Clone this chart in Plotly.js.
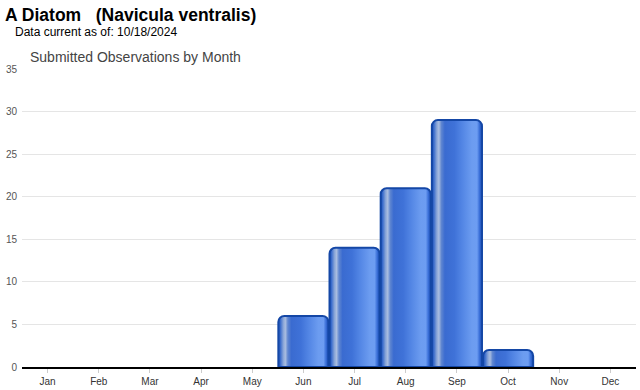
<!DOCTYPE html>
<html><head><meta charset="utf-8">
<script src="https://cdn.plot.ly/plotly-3.0.1.min.js"></script>
<style>html,body{margin:0;padding:0;background:#fff}#c{width:640px;height:390px}</style>
</head><body><div id="c"></div>
<script>
const months = ["Jan","Feb","Mar","Apr","May","Jun","Jul","Aug","Sep","Oct","Nov","Dec"];
const observations = [0,0,0,0,0,6,14,21,29,2,0,0];
const yTicks = [0,5,10,15,20,25,30,35];

const traces = [{
  type: 'bar', x: months, y: observations, width: 0.98,
  marker: {
    color: '#3f72d8', cornerradius: 6,
    line: {color: '#1447a6', width: observations.map(v => v > 0 ? 2 : 0)}
  },
  hoverinfo: 'skip', showlegend: false
}];

const layout = {
  width: 640, height: 390,
  margin: {l: 22, r: 4, t: 69, b: 23},
  paper_bgcolor: '#fff', plot_bgcolor: '#fff',
  bargap: 0.02,
  font: {family: 'Liberation Sans, Arial, sans-serif', color: '#444', size: 10},
  xaxis: {
    type: 'category', categoryarray: months, showgrid: false,
    showline: true, linecolor: '#000', linewidth: 1.5,
    ticks: 'outside', ticklen: 4, tickcolor: '#ccc',
    tickfont: {size: 10, color: '#333'}, fixedrange: true
  },
  yaxis: {
    range: [0, 35], tickvals: yTicks, showgrid: true, gridcolor: '#e5e5e5',
    zeroline: false, showline: false, ticks: '', ticklabelstandoff: 4,
    tickfont: {size: 10, color: '#555'}, fixedrange: true
  },
  annotations: [
    {text: '<b>A Diatom &nbsp; (Navicula ventralis)</b>', xref: 'paper', yref: 'paper',
     x: 0, y: 1, xshift: -19, yshift: 54, xanchor: 'left', yanchor: 'middle', showarrow: false,
     font: {size: 17.5, color: '#000', family: 'Liberation Sans, Arial, sans-serif'}},
    {text: 'Data current as of: 10/18/2024', xref: 'paper', yref: 'paper',
     x: 0, y: 1, xshift: -9, yshift: 37, xanchor: 'left', yanchor: 'middle', showarrow: false,
     font: {size: 12, color: '#000', family: 'Liberation Sans, Arial, sans-serif'}},
    {text: 'Submitted Observations by Month', xref: 'paper', yref: 'paper',
     x: 0, y: 1, xshift: 6, yshift: 12, xanchor: 'left', yanchor: 'middle', showarrow: false,
     font: {size: 14, color: '#444', family: 'Liberation Sans, Arial, sans-serif'}}
  ]
};
Plotly.newPlot('c', traces, layout, {displayModeBar: false, staticPlot: true}).then(gd => {
  const svg = gd.querySelector('svg.main-svg');
  const NS = 'http://www.w3.org/2000/svg';
  const defs = document.createElementNS(NS, 'defs');
  const g = document.createElementNS(NS, 'linearGradient');
  g.setAttribute('id', 'barGrad');
  g.setAttribute('x1', '0'); g.setAttribute('x2', '1');
  g.setAttribute('y1', '0'); g.setAttribute('y2', '0');
  const stops = [[0,'#1d4fb0'],[0.04,'#3a6ccc'],[0.10,'#8aa6d8'],[0.14,'#a9bde0'],
    [0.19,'#5f86d0'],[0.26,'#3a6bd0'],[0.45,'#3f72d8'],[0.60,'#5285e4'],
    [0.80,'#6c9cf0'],[0.90,'#6d9df2'],[0.95,'#3a6fd8'],[1,'#1a4cb0']];
  stops.forEach(([o,c]) => {
    const s = document.createElementNS(NS, 'stop');
    s.setAttribute('offset', o); s.setAttribute('stop-color', c);
    g.appendChild(s);
  });
  defs.appendChild(g);
  svg.insertBefore(defs, svg.firstChild);
  gd.querySelectorAll('.bars .point path').forEach(p => { p.style.fill = 'url(#barGrad)'; });
});
</script></body></html>
